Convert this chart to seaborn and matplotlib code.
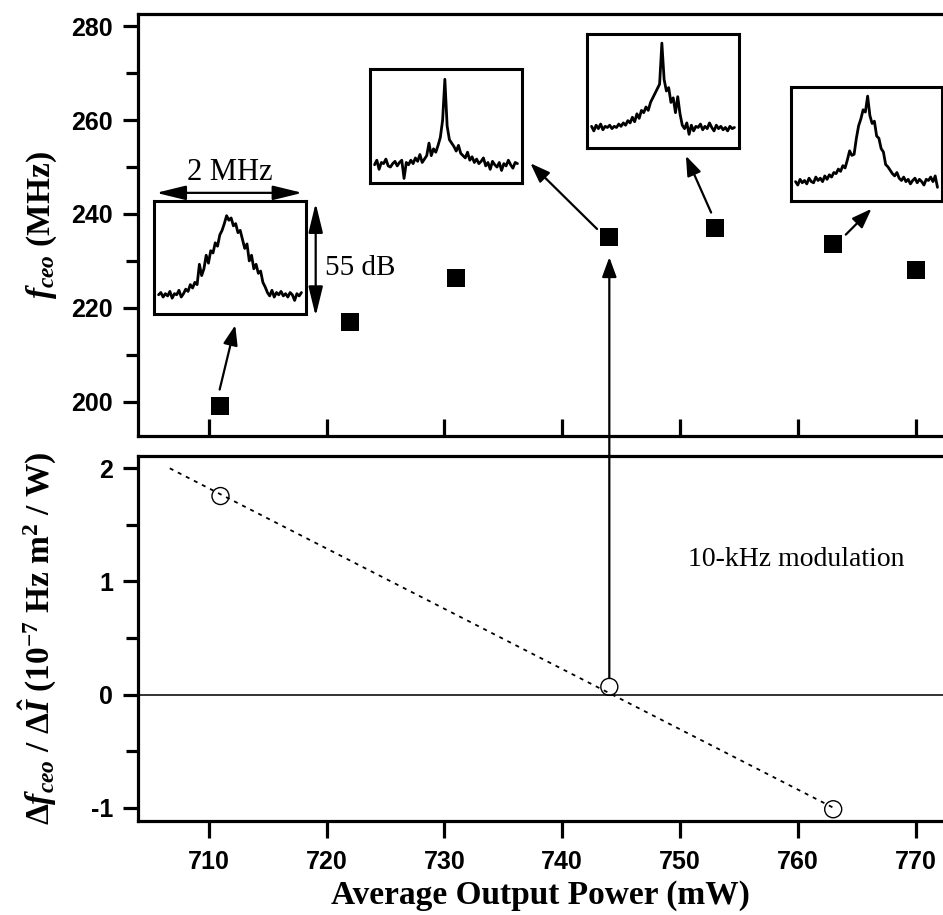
import numpy as np
import pandas as pd
import matplotlib
matplotlib.use("Agg")
import matplotlib.pyplot as plt
from matplotlib.patches import ConnectionPatch
import seaborn as sns

# ---------------- data ----------------
power_top = [711, 722, 731, 744, 753, 763, 770]          # mW
fceo = [199.1, 217.0, 226.3, 235.0, 237.1, 233.5, 228.0]  # MHz

power_bot = [711, 744, 763]
coef = [1.755, 0.068, -1.014]                             # 1e-7 Hz m^2 / W

fit_x = [706.7, 763.0]
fit_y = [2.0, -1.0]

x_ticks = [710, 720, 730, 740, 750, 760, 770]
top_yticks = [200, 220, 240, 260, 280]
top_yminor = [210, 230, 250, 270]
bot_yticks = [-1, 0, 1, 2]
bot_yminor = [-0.5, 0.5, 1.5]

# beat-note spectra shown in insets (relative height in the inset box)
spec1 = [0.17, 0.19, 0.15, 0.18, 0.16, 0.20, 0.14, 0.18, 0.17, 0.21, 0.15, 0.18,
         0.22, 0.20, 0.26, 0.23, 0.28, 0.26,
         0.44, 0.34, 0.40, 0.52, 0.45, 0.56,
         0.54, 0.63, 0.60, 0.70, 0.74, 0.80,
         0.87, 0.83, 0.85, 0.78, 0.80, 0.72,
         0.74, 0.66, 0.58, 0.62, 0.47, 0.52,
         0.40, 0.44, 0.36, 0.38, 0.28, 0.24,
         0.19, 0.16, 0.21, 0.15, 0.19, 0.17, 0.20, 0.16, 0.18, 0.15, 0.19, 0.17, 0.12, 0.18, 0.16, 0.19]
spec2 = [0.16, 0.20, 0.12, 0.18, 0.17, 0.21, 0.15, 0.14, 0.17, 0.19, 0.15, 0.18,
         0.20, 0.04, 0.18, 0.16, 0.20, 0.17,
         0.22, 0.19, 0.25, 0.18, 0.21, 0.24,
         0.35, 0.24, 0.30, 0.27, 0.33, 0.40,
         0.55, 0.91, 0.50, 0.38, 0.35, 0.32,
         0.28, 0.33, 0.26, 0.24, 0.22, 0.27,
         0.20, 0.23, 0.18, 0.21, 0.17, 0.19,
         0.22, 0.15, 0.18, 0.12, 0.19, 0.16, 0.14, 0.18, 0.11, 0.17, 0.15, 0.20, 0.16, 0.13, 0.18, 0.17]
spec3 = [0.19, 0.15, 0.20, 0.17, 0.21, 0.16, 0.19, 0.18, 0.20, 0.17, 0.19, 0.18,
         0.21, 0.19, 0.22, 0.20, 0.24, 0.22,
         0.27, 0.23, 0.30, 0.26, 0.33, 0.31,
         0.36, 0.33, 0.40, 0.44, 0.48, 0.52,
         0.56, 0.92, 0.60, 0.50, 0.53, 0.40,
         0.44, 0.31, 0.45, 0.30, 0.20, 0.17,
         0.22, 0.12, 0.20, 0.15, 0.19, 0.18,
         0.21, 0.16, 0.19, 0.17, 0.22, 0.18, 0.15, 0.20, 0.17, 0.19, 0.16, 0.18, 0.15, 0.19, 0.17, 0.18]
spec4 = [0.17, 0.14, 0.19, 0.16, 0.18, 0.15, 0.20, 0.17, 0.16, 0.21, 0.18, 0.20,
         0.17, 0.22, 0.19, 0.23, 0.21, 0.25,
         0.24, 0.28, 0.26, 0.31, 0.29, 0.36,
         0.44, 0.40, 0.41, 0.55, 0.66, 0.72,
         0.80, 0.78, 0.92, 0.75, 0.68, 0.70,
         0.57, 0.55, 0.46, 0.43, 0.32, 0.30,
         0.27, 0.24, 0.22, 0.25, 0.20, 0.18,
         0.21, 0.17, 0.19, 0.15, 0.18, 0.20, 0.16, 0.19, 0.17, 0.14, 0.19, 0.18, 0.21, 0.17, 0.22, 0.12]
spectra = [spec1, spec2, spec3, spec4]

# ---------------- style ----------------
sns.set_style("white")
plt.rcParams["font.family"] = ["Liberation Sans", "DejaVu Sans"]
plt.rcParams["mathtext.fontset"] = "custom"
plt.rcParams["mathtext.rm"] = "Liberation Serif:bold"
plt.rcParams["mathtext.bf"] = "Liberation Serif:bold"
plt.rcParams["mathtext.it"] = "Liberation Serif:italic:bold"
plt.rcParams["axes.unicode_minus"] = False
for k in ("text.color", "axes.labelcolor", "xtick.color", "ytick.color", "axes.edgecolor"):
    plt.rcParams[k] = "black"

W, H = 943, 915
fig = plt.figure(figsize=(W / 100, H / 100), dpi=100)

def fbox(x0, y0, x1, y1):
    return [x0 / W, 1 - y1 / H, (x1 - x0) / W, (y1 - y0) / H]

ax1 = fig.add_axes(fbox(138, 14, 943, 436))
ax2 = fig.add_axes(fbox(138, 456, 943, 821))

SPW = 2.3
label_font = dict(family="Liberation Serif", weight="bold", size=24)
tick_fp = matplotlib.font_manager.FontProperties(family="Liberation Sans", weight="bold", size=18)

for ax in (ax1, ax2):
    for s in ax.spines.values():
        s.set_linewidth(SPW)
        s.set_color("black")
    ax.spines["right"].set_visible(False)
    ax.set_xlim(704.0, 704.0 + 805 / 11.783)
    ax.set_xticks(x_ticks)

# ---------- top panel ----------
df_top = pd.DataFrame({"power": power_top, "fceo": fceo})
sns.scatterplot(data=df_top, x="power", y="fceo", ax=ax1, marker="s", s=150,
                color="black", edgecolor="black", linewidth=0, zorder=5)
ax1.set_ylim(192.7, 282.6)
ax1.set_yticks(top_yticks)
ax1.set_yticks(top_yminor, minor=True)
ax1.tick_params(axis="x", which="major", bottom=True, top=False, direction="in",
                length=12, width=SPW, labelbottom=False)
ax1.tick_params(axis="y", which="major", left=True, right=False, direction="out",
                length=11, width=SPW, pad=7, colors="black")
ax1.tick_params(axis="y", which="minor", left=True, right=False, direction="out",
                length=9, width=SPW)
for t in ax1.get_yticklabels():
    t.set_fontproperties(tick_fp)
ax1.set_xlabel("")
ax1.set_ylabel(r"$f_{ceo}$ (MHz)", **label_font)
ax1.yaxis.set_label_coords(-0.098, 0.5)

# arrows from data points to spectra
arrow_kw = dict(arrowstyle="-|>,head_length=0.6,head_width=0.22", color="black",
                lw=1.6, mutation_scale=20, shrinkA=0, shrinkB=0)
arrows = [((710.93, 202.6), (712.25, 216.3)),
          ((742.96, 236.8), (737.3, 250.8)),
          ((752.64, 240.3), (750.5, 252.4)),
          ((764.07, 235.6), (766.25, 241.1))]
for (xt, yt), (xh, yh) in arrows:
    ax1.annotate("", xy=(xh, yh), xytext=(xt, yt), arrowprops=arrow_kw)

# scale bars
dbl_kw = dict(arrowstyle="<|-|>,head_length=0.9,head_width=0.22", color="black",
              lw=1.6, mutation_scale=20, shrinkA=0, shrinkB=0)
ax1.annotate("", xy=(705.55, 244.5), xytext=(717.95, 244.5), arrowprops=dbl_kw)
ax1.annotate("", xy=(719.08, 242.3), xytext=(719.08, 218.25), arrowprops=dbl_kw)
ax1.text(711.8, 247.2, "2 MHz", family="Liberation Serif", size=22,
         ha="center", va="baseline")
ax1.text(719.85, 227.0, "55 dB", family="Liberation Serif", size=21,
         ha="left", va="baseline")

# ---------- bottom panel ----------
df_bot = pd.DataFrame({"power": power_bot, "coef": coef})
sns.lineplot(x=fit_x, y=fit_y, ax=ax2, color="black", lw=1.3,
             linestyle=(0, (2.2, 2.8)), zorder=3)
ax2.axhline(0, color="#222222", lw=1.3, zorder=2)
sns.scatterplot(data=df_bot, x="power", y="coef", ax=ax2, marker="o", s=150,
                facecolors="none", edgecolor="black", linewidth=1.0, zorder=5)
ax2.collections[-1].set_facecolor("none")
ax2.collections[-1].set_edgecolor("black")
ax2.set_ylim(-1.118, 2.109)
ax2.set_yticks(bot_yticks)
ax2.set_yticks(bot_yminor, minor=True)
ax2.tick_params(axis="x", which="major", bottom=True, top=False, direction="out",
                length=12, width=SPW, pad=9)
ax2.tick_params(axis="y", which="major", left=True, right=False, direction="out",
                length=11, width=SPW, pad=7)
ax2.tick_params(axis="y", which="minor", left=True, right=False, direction="out",
                length=9, width=SPW)
for t in ax2.get_yticklabels() + ax2.get_xticklabels():
    t.set_fontproperties(tick_fp)
ax2.set_xlabel("Average Output Power (mW)", labelpad=4, **label_font)
ax2.set_ylabel(r"Δ$f_{ceo}$ / Δ$\hat{I}$ (10$^{-7}$ Hz m$^{2}$ / W)", **label_font)
ax2.yaxis.set_label_coords(-0.098, 0.5)
ax2.text(759.9, 1.136, "10-kHz modulation", family="Liberation Serif", size=20,
         ha="center", va="baseline")

# vertical arrow linking the zero-crossing to the top-panel point
con = ConnectionPatch(xyA=(744.0, 0.145), coordsA=ax2.transData,
                      xyB=(744.0, 230.8), coordsB=ax1.transData,
                      arrowstyle="-|>,head_length=0.6,head_width=0.22",
                      mutation_scale=20, color="black", lw=1.6,
                      shrinkA=0, shrinkB=0, zorder=6)
fig.add_artist(con)

# ---------- insets with spectra ----------
inset_boxes = [(154, 201, 306, 314), (370, 69, 522, 183),
               (587, 34, 739, 148), (791, 87, 942, 201)]
for (x0, y0, x1, y1), spec in zip(inset_boxes, spectra):
    ia = fig.add_axes(fbox(x0, y0, x1, y1))
    xs = np.linspace(0.03, 0.97, len(spec))
    sns.lineplot(x=xs, y=spec, ax=ia, color="black", lw=2.0)
    ia.set_xlim(0, 1)
    ia.set_ylim(0, 1)
    ia.set_xticks([])
    ia.set_yticks([])
    ia.set_xlabel("")
    ia.set_ylabel("")
    for s in ia.spines.values():
        s.set_visible(True)
        s.set_linewidth(2.2)
        s.set_color("black")

fig.savefig("out.png", dpi=100)
